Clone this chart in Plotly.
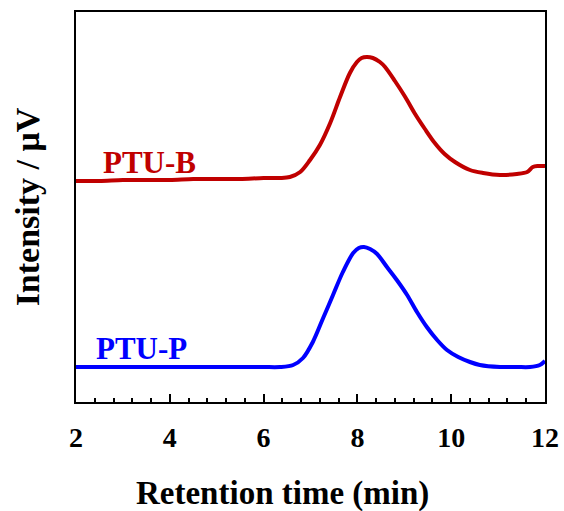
import plotly.graph_objects as go

# GPC traces: retention time (min) and detector intensity (arbitrary units, offset per sample)
ptu_b_time = [2.00, 2.50, 3.00, 3.50, 4.00, 4.50, 5.00, 5.50, 6.00, 6.35, 6.56, 6.78,
              6.99, 7.20, 7.42, 7.63, 7.84, 7.99, 8.09, 8.20, 8.33, 8.48, 8.59, 8.80,
              9.02, 9.23, 9.44, 9.65, 9.86, 10.08, 10.40, 10.68, 11.04, 11.40, 11.62,
              11.74, 11.85, 12.00]
ptu_b_intensity = [221, 221, 222, 222, 222, 223, 223, 223, 224, 224, 225, 230,
                   242, 257, 279, 305, 329, 340, 344, 345, 344, 340, 335, 321,
                   305, 288, 273, 259, 248, 240, 232, 229, 227, 228, 230,
                   235, 236, 236]

ptu_p_time = [2.00, 2.50, 3.00, 3.50, 4.00, 4.50, 5.00, 5.50, 6.00, 6.35, 6.63, 6.84,
              7.05, 7.27, 7.48, 7.69, 7.91, 8.03, 8.14, 8.27, 8.42, 8.63, 8.84, 9.06,
              9.27, 9.48, 9.70, 9.91, 10.15, 10.40, 10.61, 11.04, 11.40, 11.68, 11.89,
              12.00]
ptu_p_intensity = [35, 35, 35, 35, 35, 35, 35, 35, 35, 35, 37, 44,
                   60, 84, 107, 130, 149, 154, 155, 153, 148, 135, 122, 107,
                   90, 75, 62, 52, 45, 40, 37, 35, 35, 35, 37,
                   41]

x_ticks = [2, 4, 6, 8, 10, 12]
sample_labels = ["PTU-B", "PTU-P"]
sample_colors = ["#C00000", "#0000FF"]
label_pos = [(3.57, 240), (3.39, 54)]

font_family = "Times New Roman, Liberation Serif, serif"

fig = go.Figure()
for t, y, name, color in [(ptu_b_time, ptu_b_intensity, sample_labels[0], sample_colors[0]),
                          (ptu_p_time, ptu_p_intensity, sample_labels[1], sample_colors[1])]:
    fig.add_trace(go.Scatter(x=t, y=y, mode="lines", name=name,
                             line=dict(color=color, width=4, shape="spline", smoothing=0.9),
                             showlegend=False))

for name, color, (lx, ly) in zip(sample_labels, sample_colors, label_pos):
    fig.add_annotation(x=lx, y=ly, text=f"<b>{name}</b>", showarrow=False,
                       xanchor="center", yanchor="middle",
                       font=dict(family=font_family, size=31, color=color))

# x-axis title, placed slightly left of the plot centre
fig.add_annotation(x=0.44, y=-0.235, xref="paper", yref="paper",
                   text="<b>Retention time (min)</b>", showarrow=False,
                   xanchor="center", yanchor="middle",
                   font=dict(family=font_family, size=33, color="black"))

fig.update_layout(
    width=564, height=511,
    margin=dict(l=76, r=19, t=12, b=109, autoexpand=False),
    paper_bgcolor="white", plot_bgcolor="white",
    font=dict(family=font_family, color="black"),
)
fig.update_xaxes(
    range=[2, 12], tickvals=x_ticks, ticktext=[f"<b>{v}</b>" for v in x_ticks],
    tickfont=dict(size=28, family=font_family, color="black"),
    ticks="inside", ticklen=8, tickwidth=1.5, tickcolor="black",
    minor=dict(ticks="inside", ticklen=4, dtick=0.4, tickwidth=1.5, tickcolor="black"),
    ticklabelstandoff=9, automargin=False,
    showline=True, linecolor="black", linewidth=2, mirror=True,
    showgrid=False, zeroline=False,
)
fig.update_yaxes(
    range=[0, 390], showticklabels=False, ticks="", automargin=False,
    showline=True, linecolor="black", linewidth=2, mirror=True,
    showgrid=False, zeroline=False,
    title=dict(text="<b>Intensity / μV</b>", standoff=24,
               font=dict(size=34, family=font_family, color="black")),
)

fig.write_html("out.html")
